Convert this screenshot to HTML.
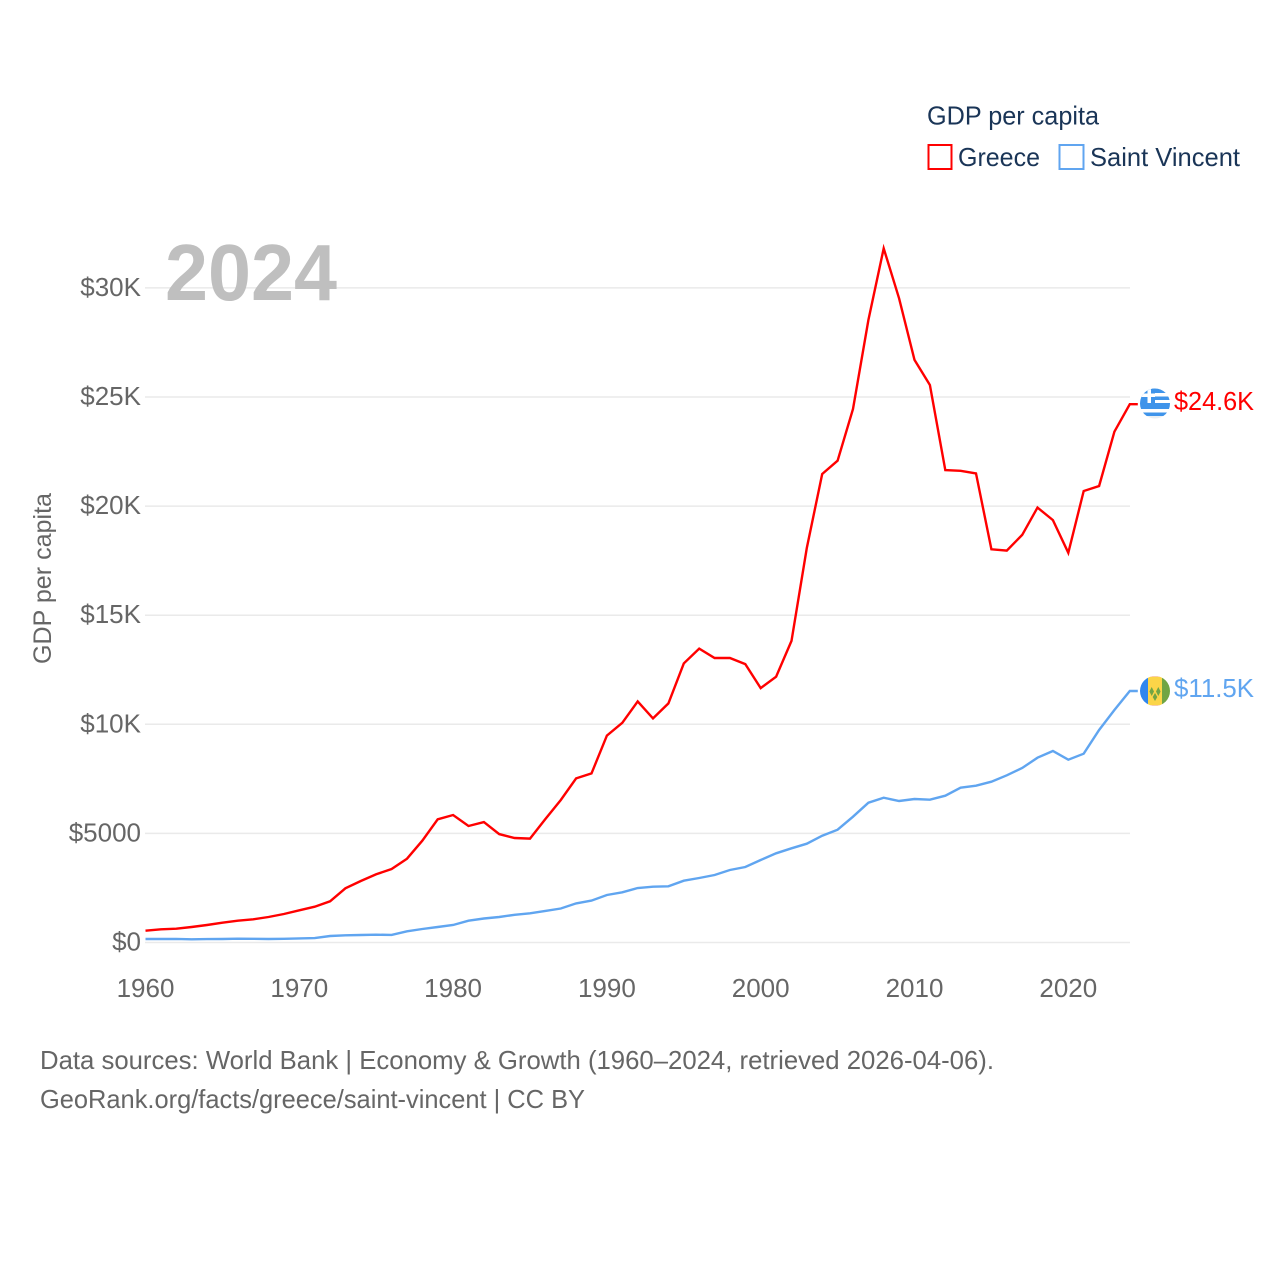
<!DOCTYPE html>
<html lang="en">
<head>
<meta charset="utf-8">
<title>GDP per capita: Greece and Saint Vincent</title>
<style>
html,body{margin:0;padding:0;background:#fff;width:1280px;height:1280px;overflow:hidden}
svg{display:block}
text{font-family:"Liberation Sans",sans-serif}
</style>
</head>
<body>
<svg id="chart" width="1280" height="1280" viewBox="0 0 1280 1280" xmlns="http://www.w3.org/2000/svg">
  <defs>
    <clipPath id="flag-clip-gr"><circle cx="1155" cy="403.5" r="15"/></clipPath>
    <clipPath id="flag-clip-vc"><circle cx="1155" cy="691" r="15"/></clipPath>
  </defs>
  <rect width="1280" height="1280" fill="#fff"/>
  <g id="grid"></g>
  <text x="165" y="300" font-size="80" font-weight="700" fill="#bfbfbf" textLength="172" lengthAdjust="spacingAndGlyphs">2024</text>
  <g id="y-ticks"></g>
  <g id="x-ticks"></g>
  <text transform="translate(51,664) rotate(-90)" font-size="25" fill="#666" textLength="171" lengthAdjust="spacingAndGlyphs">GDP per capita</text>
  <g id="series"></g>

  <g>
    <text x="927" y="124.5" font-size="26" fill="#1a3557" textLength="172" lengthAdjust="spacingAndGlyphs">GDP per capita</text>
    <g>
      <rect x="928.5" y="145" width="23" height="24" fill="none" stroke="#ff0000" stroke-width="2"/>
      <text x="958" y="166" font-size="26" fill="#1a3557" textLength="82" lengthAdjust="spacingAndGlyphs">Greece</text>
    </g>
    <g>
      <rect x="1059.5" y="145" width="24" height="24" fill="none" stroke="#60a5f0" stroke-width="2"/>
      <text x="1090" y="166" font-size="26" fill="#1a3557" textLength="150" lengthAdjust="spacingAndGlyphs">Saint Vincent</text>
    </g>
  </g>

  <g clip-path="url(#flag-clip-gr)">
    <rect x="1140" y="388" width="30" height="32" fill="#fff"/>
    <rect x="1140" y="388" width="30" height="5" fill="#3f94ea"/>
    <rect x="1140" y="396.5" width="30" height="3.5" fill="#3f94ea"/>
    <rect x="1140" y="403" width="30" height="6" fill="#3f94ea"/>
    <rect x="1140" y="412.5" width="30" height="3.5" fill="#3f94ea"/>
    <rect x="1140" y="388" width="15" height="15" fill="#3f94ea"/>
    <rect x="1147.5" y="388" width="3.5" height="15" fill="#fff"/>
    <rect x="1140" y="393.5" width="15" height="3.5" fill="#fff"/>
    <rect x="1140" y="416" width="30" height="4" fill="#e8eef2"/>
  </g>
  <g clip-path="url(#flag-clip-vc)">
    <rect x="1140" y="676" width="8" height="30" fill="#2f86ee"/>
    <rect x="1148" y="676" width="14" height="30" fill="#fbd548"/>
    <rect x="1162" y="676" width="8" height="30" fill="#70a544"/>
    <rect x="1148" y="676" width="14" height="1" fill="#f8c9b0"/>
    <rect x="1148" y="705" width="14" height="1" fill="#f8c9b0"/>
    <polygon points="1151.7,687 1154,691.5 1151.7,696 1149.4,691.5" fill="#70a544"/>
    <polygon points="1158.3,687 1160.6,691.5 1158.3,696 1156,691.5" fill="#70a544"/>
    <polygon points="1155,693 1157.3,697 1155,701 1152.7,697" fill="#70a544"/>
  </g>

  <text x="1174" y="410" font-size="26" fill="#ff0000" textLength="80" lengthAdjust="spacingAndGlyphs">$24.6K</text>
  <text x="1174" y="697" font-size="26" fill="#60a5f0" textLength="80" lengthAdjust="spacingAndGlyphs">$11.5K</text>

  <text x="40" y="1069" font-size="26" fill="#666" textLength="954" lengthAdjust="spacingAndGlyphs">Data sources: World Bank | Economy &amp; Growth (1960–2024, retrieved 2026-04-06).</text>
  <text x="40" y="1108" font-size="26" fill="#666" textLength="545" lengthAdjust="spacingAndGlyphs">GeoRank.org/facts/greece/saint-vincent | CC BY</text>
</svg>
<script>
const startYear = 1960;
const greeceValues = [541,605,633,710,802,907,1000,1063,1169,1306,1476,1641,1888,2484,2818,3125,3368,3841,4665,5646,5843,5339,5520,4970,4790,4760,5660,6530,7520,7750,9480,10070,11050,10270,10960,12790,13470,13040,13040,12760,11660,12180,13820,18080,21470,22080,24450,28530,31810,29520,26700,25550,21650,21620,21500,18020,17960,18680,19930,19360,17860,20690,20920,23410,24670];
const saintVincentValues = [160,160,165,145,155,160,175,170,160,170,190,200,298,330,344,358,350,513,619,710,802,1000,1100,1170,1270,1340,1450,1560,1790,1920,2177,2300,2498,2557,2575,2832,2956,3094,3323,3460,3781,4088,4317,4528,4895,5170,5765,6407,6636,6485,6577,6545,6728,7095,7186,7370,7662,7997,8470,8776,8378,8653,9739,10655,11526];
const yTickValues = [0,5000,10000,15000,20000,25000,30000];
const yTickLabels = ['$0','$5000','$10K','$15K','$20K','$25K','$30K'];
const xTickYears = [1960,1970,1980,1990,2000,2010,2020];

const NS = 'http://www.w3.org/2000/svg';
const xScale = function (year) { return 145.5 + (year - 1960) * 15.38; };
const yScale = function (value) { return 942.5 - value / 5000 * 109.1; };
const plotLeft = 145;
const plotRight = 1130;
const endStub = 8;

const gridGroup = document.getElementById('grid');
const yTickGroup = document.getElementById('y-ticks');
const xTickGroup = document.getElementById('x-ticks');
const seriesGroup = document.getElementById('series');

yTickValues.forEach(function (value, i) {
  const line = document.createElementNS(NS, 'line');
  
  
  line.setAttribute('x1', plotLeft);
  line.setAttribute('x2', plotRight);
  line.setAttribute('y1', yScale(value));
  line.setAttribute('y2', yScale(value));
  line.setAttribute('stroke', '#eaeaea');
  line.setAttribute('stroke-width', '1.5');
  gridGroup.appendChild(line);

  const label = document.createElementNS(NS, 'text');
  
  
  label.setAttribute('x', 141);
  label.setAttribute('y', yScale(value) + 8);
  label.setAttribute('text-anchor', 'end');
  label.setAttribute('font-size', '26');
  label.setAttribute('fill', '#666');
  label.textContent = yTickLabels[i];
  yTickGroup.appendChild(label);
});

xTickYears.forEach(function (year) {
  const label = document.createElementNS(NS, 'text');
  
  
  label.setAttribute('x', xScale(year));
  label.setAttribute('y', 997);
  label.setAttribute('text-anchor', 'middle');
  label.setAttribute('font-size', '26');
  label.setAttribute('fill', '#666');
  label.textContent = String(year);
  xTickGroup.appendChild(label);
});

function buildPoints(values) {
  const pts = values.map(function (value, i) {
    return xScale(startYear + i).toFixed(1) + ',' + yScale(value).toFixed(1);
  });
  const lastYear = startYear + values.length - 1;
  pts.push((xScale(lastYear) + endStub).toFixed(1) + ',' + yScale(values[values.length - 1]).toFixed(1));
  return pts.join(' ');
}

const greeceLine = document.createElementNS(NS, 'polyline');


greeceLine.setAttribute('points', buildPoints(greeceValues));
greeceLine.setAttribute('fill', 'none');
greeceLine.setAttribute('stroke', '#ff0000');
greeceLine.setAttribute('stroke-width', '2.4');
greeceLine.setAttribute('stroke-linejoin', 'miter');
seriesGroup.appendChild(greeceLine);

const saintVincentLine = document.createElementNS(NS, 'polyline');


saintVincentLine.setAttribute('points', buildPoints(saintVincentValues));
saintVincentLine.setAttribute('fill', 'none');
saintVincentLine.setAttribute('stroke', '#60a5f0');
saintVincentLine.setAttribute('stroke-width', '2.4');
seriesGroup.appendChild(saintVincentLine);
</script>
</body>
</html>
